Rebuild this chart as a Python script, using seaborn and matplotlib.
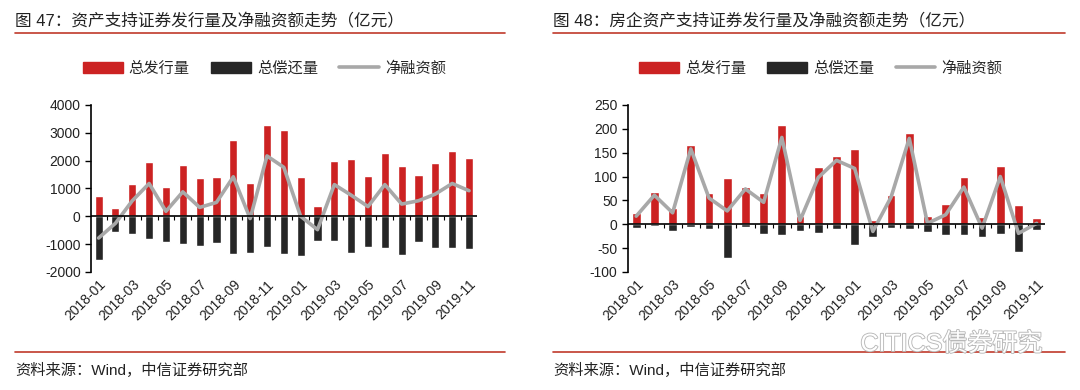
import numpy as np
import pandas as pd
import seaborn as sns
import matplotlib.pyplot as plt
import matplotlib.patheffects as pe
from matplotlib.patches import Patch
from matplotlib.lines import Line2D

# data (亿元)
months = ["2018-01", "2018-02", "2018-03", "2018-04", "2018-05", "2018-06",
          "2018-07", "2018-08", "2018-09", "2018-10", "2018-11", "2018-12",
          "2019-01", "2019-02", "2019-03", "2019-04", "2019-05", "2019-06",
          "2019-07", "2019-08", "2019-09", "2019-10", "2019-11"]
tick_labels = months[::2]

# fig 47: all ABS
abs_issue = [730, 310, 1170, 1960, 1070, 1860, 1380, 1420, 2750, 1200, 3270, 3100,
             1420, 380, 2000, 2060, 1450, 2270, 1820, 1480, 1930, 2330, 2100]
abs_repay = [-1560, -580, -630, -810, -920, -990, -1080, -950, -1350, -1300, -1120, -1350,
             -1420, -880, -880, -1320, -1120, -1150, -1390, -940, -1150, -1150, -1190]
abs_net = [-780, -250, 560, 1180, 180, 880, 320, 500, 1420, -80, 2170, 1760,
           0, -480, 1140, 760, 350, 1140, 440, 560, 800, 1180, 920]

# fig 48: real-estate ABS
re_issue = [23, 67, 34, 166, 65, 98, 79, 65, 208, 17, 119, 144,
            158, 9, 61, 192, 17, 42, 100, 16, 122, 40, 14]
re_repay = [-8, -3, -15, -6, -10, -71, -5, -20, -22, -14, -19, -10,
            -43, -26, -8, -10, -17, -22, -22, -26, -20, -59, -12]
re_net = [17, 61, 24, 158, 55, 28, 74, 46, 182, 8, 98, 134,
          117, -15, 57, 180, 2, 20, 78, -8, 100, -19, 2]

RED = "#CC2222"
BLACK = "#262626"
GREY = "#A8A8A8"

sns.set_style("white")
plt.rcParams['font.family'] = ['Liberation Sans', 'Noto Sans CJK SC', 'DejaVu Sans']

fig = plt.figure(figsize=(10.8, 3.9), dpi=100)


def draw_panel(rect, issue, repay, net, ylim, yticks):
    ax = fig.add_axes(rect)
    df = pd.DataFrame({"month": months, "issue": issue, "repay": repay, "net": net})
    sns.barplot(data=df, x="month", y="issue", color=RED, width=0.48,
                saturation=1, ax=ax)
    sns.barplot(data=df, x="month", y="repay", color=BLACK, width=0.48,
                saturation=1, ax=ax)
    sns.lineplot(data=df, x="month", y="net", color=GREY, linewidth=2.6,
                 sort=False, ax=ax)
    ax.set_xlim(-0.45, len(months) - 0.55)
    ax.set_ylim(*ylim)
    ax.set_yticks(yticks)
    ax.set_yticklabels([str(v) for v in yticks], fontsize=10, color="#222222")
    ax.set_xticks(range(0, len(months), 2))
    ax.set_xticklabels(tick_labels, rotation=45, ha="right", rotation_mode="anchor",
                       fontsize=10, color="#222222")
    ax.tick_params(axis="x", length=0, pad=4)
    ax.tick_params(axis="y", length=4, width=1, color="black", direction="out", left=True)
    ax.set_xlabel("")
    ax.set_ylabel("")
    for s in ["top", "right", "bottom"]:
        ax.spines[s].set_visible(False)
    ax.spines["left"].set_color("black")
    ax.spines["left"].set_linewidth(1.2)
    ax.axhline(0, color="black", linewidth=1.2, zorder=3)
    # small category ticks on the zero line
    zero_frac = (0 - ylim[0]) / (ylim[1] - ylim[0])
    sec = ax.secondary_xaxis(zero_frac)
    sec.set_xticks(np.arange(0.5, len(months) - 1, 1))
    sec.set_xticklabels([])
    sec.tick_params(length=3, width=0.8, color="black", direction="out")
    sec.spines["bottom"].set_visible(False)
    return ax


ax1 = draw_panel([0.0843, 0.3026, 0.357, 0.4282], abs_issue, abs_repay, abs_net,
                 (-2000, 4000), [-2000, -1000, 0, 1000, 2000, 3000, 4000])
ax2 = draw_panel([0.5815, 0.3026, 0.386, 0.4282], re_issue, re_repay, re_net,
                 (-100, 250), [-100, -50, 0, 50, 100, 150, 200, 250])

# titles and rules
fig.text(0.014, 0.945, "图 47：资产支持证券发行量及净融资额走势（亿元）", fontsize=12,
         color="#222222", va="center")
fig.text(0.512, 0.945, "图 48：房企资产支持证券发行量及净融资额走势（亿元）", fontsize=12,
         color="#222222", va="center")
for x0, x1 in [(0.014, 0.468), (0.512, 0.986)]:
    fig.add_artist(Line2D([x0, x1], [0.915, 0.915], color="#C0392B", linewidth=1.2))
    fig.add_artist(Line2D([x0, x1], [0.097, 0.097], color="#C0392B", linewidth=1.2))

fig.text(0.014, 0.05, "资料来源：Wind，中信证券研究部", fontsize=11, color="#222222", va="center")
fig.text(0.512, 0.05, "资料来源：Wind，中信证券研究部", fontsize=11, color="#222222", va="center")

# legends
handles = [Patch(color=RED), Patch(color=BLACK), Line2D([], [], color=GREY, linewidth=2.6)]
names = ["总发行量", "总偿还量", "净融资额"]
for cx in [0.245, 0.76]:
    fig.legend(handles, names, loc="center", bbox_to_anchor=(cx, 0.825), ncol=3,
               frameon=False, fontsize=11, handlelength=2.6, handleheight=0.7,
               columnspacing=1.4, handletextpad=0.4)

# watermark
fig.text(0.965, 0.118, "CITICS债券研究", fontsize=18, color="white", ha="right", va="center",
         path_effects=[pe.withStroke(linewidth=1.3, foreground="#B8B8B8")])

fig.savefig("out.png", dpi=100)
